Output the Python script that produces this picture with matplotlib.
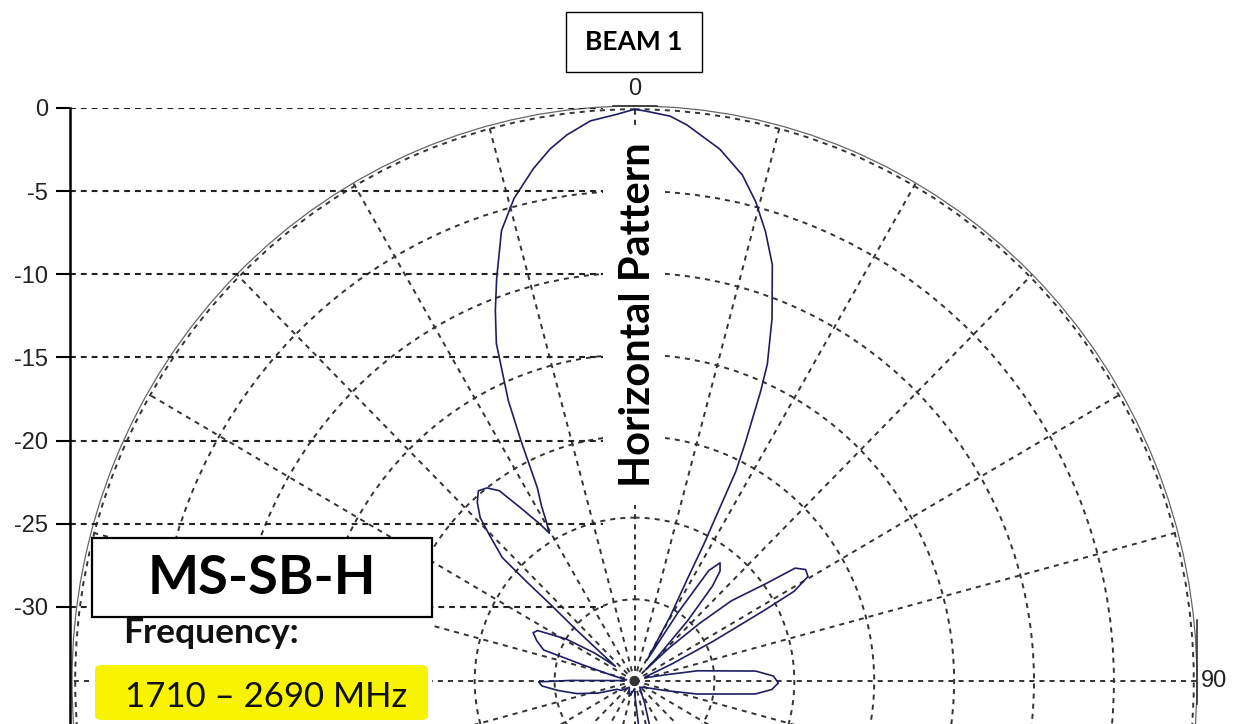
import numpy as np
import matplotlib
matplotlib.use("Agg")
import matplotlib.pyplot as plt
from matplotlib.patches import Rectangle, FancyBboxPatch
from matplotlib.lines import Line2D

plt.rcParams['axes.unicode_minus'] = False

# Horizontal pattern: angle (deg, clockwise from boresight) and gain (dB)
angle_deg = [-180, -160, -140, -125, -115, -108, -102, -97, -93, -90.5, -89.5, -88.5,
             -82, -76, -73, -71.5, -68, -65, -63, -59, -55.5, -53, -50.5, -49.2,
             -48.3, -48.0, -47.6, -45.5, -44, -42, -40, -38, -36, -33.8, -31.5, -30.5,
             -29.5, -28.5, -27.2, -25.8, -24.7, -22.7, -21, -19.3, -16.8, -14.3, -11.4,
             -9.2, -7.2, -4.6, -1.9, 0, 1.1, 3.7, 5.5, 9.3, 12.3, 14.5, 16.6, 18.7, 21.2,
             23.2, 24.0, 25.4, 26.3, 27.4, 27.9, 29.5, 31.5, 33, 34.5, 36.5, 38.5, 40, 42,
             44.5, 45.5, 47, 49.1, 51, 54.1, 55.5, 57.5, 59.5, 61.2, 62, 63.7, 66, 70, 76,
             79, 81, 85.4, 88, 90.8, 93.5, 96, 101.5, 107, 120, 140, 155, 162, 166,
             170, 174, 178, 180]
gain_db = [-34.5, -34.0, -34.5, -34.0, -33.8, -32.6, -31.3, -30.2, -29.2, -29.0, -31.0, -34.0,
           -34.5, -33.5, -31.6, -29.0, -28.4, -28.0, -28.2, -30.0, -32.0, -33.5, -32.1, -30.0,
           -28.0, -25.9, -23.8, -22.3, -21.1, -20.3, -19.8, -20.0, -20.6, -22.3, -23.8, -24.5,
           -23.8, -22.8, -21.7, -18.7, -16.1, -12.6, -10.7, -8.9, -6.2, -4.5, -3.0,
           -2.0, -1.3, -0.6, -0.3, 0.0, -0.1, -0.35, -0.8, -2.0, -3.3, -4.7, -6.3, -8.1, -11.2,
           -13.9, -15.6, -18.8, -20.7, -25.6, -27.9, -30.5, -33.5, -30.0, -26.8, -26.0, -26.4, -27.4, -30.0,
           -33.0, -34.0, -32.0, -29.6, -27.2, -24.8, -22.8, -22.3, -22.4, -23.6, -25.9, -29.5, -32.5, -34.3, -34.0,
           -33.0, -31.0, -27.4, -26.3, -26.0, -26.4, -27.4, -31.0, -33.0, -34.2, -34.5, -33.5, -31.5, -30.0,
           -29.5, -31.0, -34.0, -34.5]

ring_db = [-30, -25, -20, -15, -10, -5, 0]
spoke_deg = list(range(0, 360, 15))
spoke_labels = {0: '0', 90: '90'}
level_ticks = [0, -5, -10, -15, -20, -25, -30]
level_labels = ['0', '-5', '-10', '-15', '-20', '-25', '-30']

W, H = 1235, 724
fig = plt.figure(figsize=(W / 100, H / 100), dpi=100)
fig.patch.set_facecolor('white')


def fx(x):
    return x / W


def fy(y):
    return 1 - y / H


# polar chart, centre near the bottom edge, so only the upper half shows
cx, cy, rx, ry = 634.5, 681, 562.5, 575
ax = fig.add_axes([fx(cx - rx), fy(cy + ry), 2 * rx / W, 2 * ry / H], projection='polar')
ax.set_aspect('auto')
ax.set_theta_zero_location('N')
ax.set_theta_direction(-1)
ax.set_rlim(-35, 0.2)
ax.set_rticks(ring_db)
ax.set_yticklabels([])
ax.set_thetagrids(spoke_deg, labels=[spoke_labels.get(a, '') for a in spoke_deg])
ax.tick_params(axis='x', pad=2, labelsize=17, labelcolor='#222222',
               labelfontfamily='Liberation Sans')
ax.grid(True, color='#333333', lw=1.4, linestyle=(0, (2.6, 2.6)))
ax.spines['polar'].set_edgecolor('#666666')
ax.spines['polar'].set_linewidth(0.9)
ax.plot(np.radians(angle_deg), gain_db, color='#1e1e62', lw=1.2)

# small darker marks on the rim at 0 and 90
fig.add_artist(Line2D([fx(613), fx(657)], [fy(106), fy(106)], color='#333333', lw=1.2, zorder=2))
fig.add_artist(Line2D([fx(1197), fx(1197)], [fy(620), fy(704)], color='#333333', lw=1.2, zorder=2))

# left dB scale with dotted level lines
ax2 = fig.add_axes([fx(70), 0, (603 - 70) / W, (H - 108) / H])
ax2.patch.set_visible(False)
ax2.set_ylim(-(H - 108) / 16.63, 0)
ax2.set_xlim(0, 1)
for s in ['top', 'right', 'bottom']:
    ax2.spines[s].set_visible(False)
ax2.spines['left'].set_linewidth(1.8)
ax2.set_xticks([])
ax2.set_yticks(level_ticks)
ax2.set_yticklabels(level_labels, fontfamily='Liberation Sans', fontsize=17, color='#222222')
ax2.tick_params(axis='y', direction='out', length=10, width=1.5, pad=6)
ax2.grid(True, axis='y', color='#222222', lw=1.5, linestyle=(0, (2.8, 2.4)))

# white patch behind the vertical title
fig.add_artist(Rectangle((fx(603), fy(505)), 62 / W, 377 / H, transform=fig.transFigure,
                         fc='white', ec='none', zorder=2))
fig.text(fx(638), fy(315), 'Horizontal Pattern', rotation=90, ha='center', va='center',
         fontfamily='Lato', fontweight='bold', fontsize=30, color='black', zorder=3)

# BEAM 1 box
fig.add_artist(Rectangle((fx(566), fy(72)), 136 / W, 60 / H, transform=fig.transFigure,
                         fc='white', ec='black', lw=1.0, zorder=2))
fig.text(fx(634), fy(42), 'BEAM 1', ha='center', va='center', fontfamily='Lato',
         fontweight='bold', fontsize=19, color='black', zorder=3)

# model / frequency panel
fig.add_artist(Rectangle((fx(90), 0), 342 / W, fy(538), transform=fig.transFigure,
                         fc='white', ec='none', zorder=2))
fig.add_artist(Rectangle((fx(92), fy(617)), 340 / W, 79 / H, transform=fig.transFigure,
                         fc='white', ec='black', lw=1.6, zorder=2))
fig.text(fx(262), fy(578), 'MS-SB-H', ha='center', va='center', fontfamily='Lato',
         fontweight='bold', fontsize=39, color='black', zorder=3)
fig.text(fx(123), fy(643), 'Frequency:', ha='left', va='baseline', fontfamily='Lato',
         fontweight='bold', fontsize=25.5, color='#111111', zorder=3)
fig.add_artist(FancyBboxPatch((fx(95), fy(720)), 333 / W, 55 / H,
                              boxstyle='round,pad=0,rounding_size=0.006',
                              transform=fig.transFigure, fc='#F8F400', ec='none', zorder=2))
fig.text(fx(125), fy(707), '1710 \u2013 2690 MHz', ha='left', va='baseline', fontfamily='Lato',
         fontsize=25, color='#111111', zorder=3)

fig.savefig('out.png', dpi=100)
